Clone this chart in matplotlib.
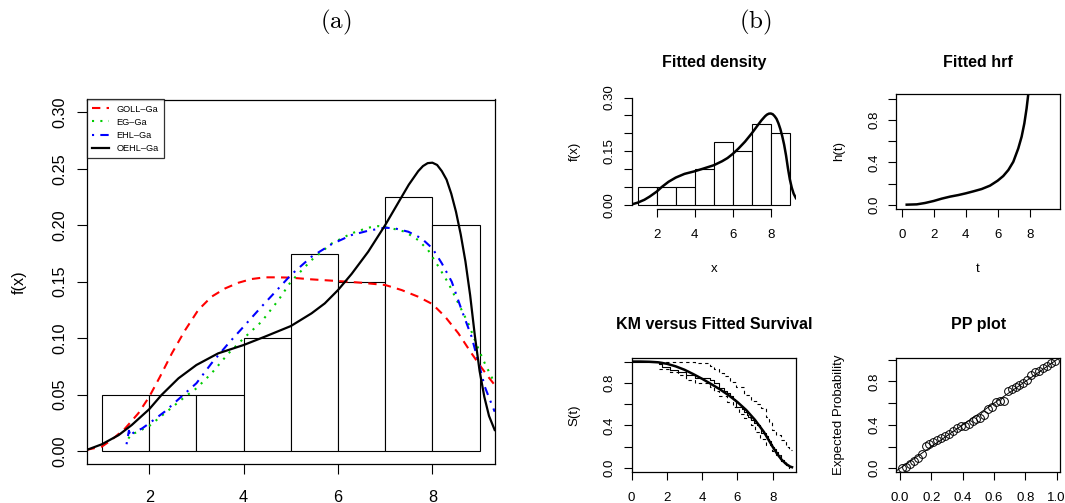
import matplotlib
matplotlib.use('Agg')
import matplotlib.pyplot as plt

plt.rcParams['font.family'] = ['Liberation Sans', 'DejaVu Sans']
plt.rcParams['mathtext.fontset'] = 'cm'

# histogram of the data (density scale)
bin_left = [1, 2, 3, 4, 5, 6, 7, 8]
hist_density = [0.05, 0.05, 0.05, 0.10, 0.175, 0.15, 0.225, 0.20]

# fitted densities, panel (a)
oehl_x = [0.675, 1.0, 1.35, 1.63, 2.0, 2.26, 2.62, 3.0, 3.46, 4.0, 4.45, 5.0, 5.44, 5.72,
          6.0, 6.29, 6.64, 7.0, 7.35, 7.5, 7.7, 7.8, 7.9, 8.0, 8.1, 8.2, 8.3, 8.4, 8.5,
          8.6, 8.7, 8.8, 8.9, 9.0, 9.1, 9.2, 9.32]
oehl_y = [0.0009, 0.006, 0.014, 0.023, 0.037, 0.0496, 0.0644, 0.0762, 0.0865, 0.0939,
          0.1013, 0.1107, 0.122, 0.1308, 0.1426, 0.157, 0.1766, 0.2002, 0.2253, 0.236,
          0.248, 0.2525, 0.2551, 0.2555, 0.2535, 0.248, 0.2405, 0.228, 0.212, 0.192, 0.168,
          0.138, 0.102, 0.071, 0.048, 0.031, 0.0186]

goll_x = [0.675, 1.0, 1.2, 1.49, 1.77, 2.0, 2.23, 2.48, 2.76, 3.04, 3.32, 3.61, 3.89, 4.17,
          4.45, 4.74, 5.0, 5.44, 6.0, 6.5, 7.0, 7.35, 7.7, 8.0, 8.27, 8.55, 8.83, 9.0,
          9.18, 9.32]
goll_y = [0.001, 0.004, 0.0097, 0.020, 0.0334, 0.048, 0.0659, 0.0865, 0.107, 0.125, 0.1367,
          0.1441, 0.1491, 0.1524, 0.1539, 0.1539, 0.1536, 0.1521, 0.1506, 0.1491, 0.1471,
          0.1426, 0.1367, 0.1302, 0.119, 0.1043, 0.0865, 0.0762, 0.0659, 0.0585]

eg_x = [1.56, 1.62, 1.70, 1.85, 2.0, 2.33, 2.76, 3.0, 3.32, 3.68, 4.0, 4.38, 4.74, 5.0,
        5.44, 5.87, 6.29, 6.64, 6.85, 7.14, 7.42, 7.7, 7.91, 8.13, 8.34, 8.55, 8.76, 8.9,
        9.0, 9.11, 9.32]
eg_y = [0.011, 0.015, 0.016, 0.019, 0.0221, 0.0334, 0.0481, 0.0555, 0.0688, 0.0865, 0.0998,
        0.1146, 0.1338, 0.15, 0.1692, 0.184, 0.1929, 0.1979, 0.1993, 0.1973, 0.1943, 0.1869,
        0.178, 0.1633, 0.1486, 0.1308, 0.1131, 0.0983, 0.088, 0.0777, 0.06]

ehl_x = [1.52, 1.57, 1.61, 1.66, 1.75, 1.85, 2.0, 2.33, 2.76, 3.0, 3.32, 3.68, 4.0, 4.38,
         4.74, 5.0, 5.44, 5.87, 6.29, 6.64, 7.0, 7.2, 7.49, 7.77, 8.0, 8.2, 8.41, 8.62,
         8.83, 9.0, 9.11, 9.22, 9.32]
ehl_y = [0.006, 0.018, 0.013, 0.016, 0.018, 0.020, 0.0245, 0.0349, 0.0511, 0.06, 0.0777,
         0.0954, 0.1102, 0.1279, 0.1441, 0.1559, 0.1722, 0.1834, 0.1914, 0.1952, 0.1979,
         0.1973, 0.1943, 0.1884, 0.1796, 0.1663, 0.15, 0.1249, 0.1013, 0.0747, 0.057,
         0.0452, 0.0348]

# fitted hazard
hrf_t = [0.31, 0.94, 1.46, 2.0, 2.5, 3.02, 3.54, 4.0, 4.48, 5.0, 5.52, 6.0, 6.35, 6.67,
         6.98, 7.29, 7.5, 7.67, 7.81, 7.92]
hrf_h = [0.0, 0.003, 0.016, 0.035, 0.057, 0.076, 0.091, 0.107, 0.126, 0.148, 0.18, 0.227,
         0.271, 0.328, 0.406, 0.532, 0.643, 0.769, 0.91, 1.05]

# Kaplan-Meier estimate (event times, survival after each event)
km_time = [0, 1.55, 1.75, 2.15, 2.65, 3.1, 3.6, 4.45, 4.7, 4.93, 4.98, 5.25, 5.4, 5.6, 5.75,
           5.85, 5.9, 5.95, 6.25, 6.4, 6.55, 6.6, 6.75, 6.95, 7.1, 7.3, 7.32, 7.33, 7.65,
           7.72, 7.8, 7.88, 7.95, 8.05, 8.2, 8.3, 8.38, 8.48, 8.62, 8.78, 8.95]
km_surv = [1.0, 0.975, 0.95, 0.925, 0.9, 0.875, 0.85, 0.825, 0.8, 0.775, 0.75, 0.725, 0.7,
           0.675, 0.65, 0.625, 0.6, 0.575, 0.55, 0.525, 0.5, 0.475, 0.45, 0.425, 0.4, 0.375,
           0.35, 0.325, 0.3, 0.275, 0.25, 0.225, 0.2, 0.175, 0.15, 0.125, 0.1, 0.075, 0.05,
           0.025, 0.0]
upper_t = [1.55, 2.65, 3.6, 4.45, 4.7, 4.98, 5.25, 5.6, 5.95, 6.4, 6.75, 7.1, 7.33, 7.65,
           7.8, 7.95, 8.2, 8.48, 8.78, 8.95, 9.1]
upper_s = [1.0, 0.995, 0.985, 0.96, 0.93, 0.895, 0.86, 0.81, 0.76, 0.69, 0.63, 0.6, 0.56,
           0.48, 0.43, 0.36, 0.31, 0.26, 0.2, 0.17, 0.17]
lower_t = [1.55, 2.15, 2.65, 3.1, 3.6, 4.45, 4.7, 4.98, 5.4, 5.75, 6.1, 6.4, 6.75, 7.0, 7.3,
           7.65, 7.95, 8.2, 8.48, 8.78, 8.95]
lower_s = [0.93, 0.90, 0.87, 0.83, 0.80, 0.76, 0.72, 0.68, 0.62, 0.57, 0.51, 0.47, 0.40, 0.34,
           0.27, 0.22, 0.16, 0.12, 0.07, 0.03, 0.0]

# fitted survival
surv_t = [0, 0.5, 1.0, 1.5, 2.0, 2.5, 3.0, 3.5, 4.0, 4.5, 5.0, 5.5, 6.0, 6.5, 7.0, 7.5, 8.0,
          8.25, 8.5, 8.75, 9.0, 9.1]
surv_s = [1.0, 1.0, 0.998, 0.993, 0.979, 0.955, 0.923, 0.882, 0.838, 0.79, 0.74, 0.684, 0.62,
          0.545, 0.452, 0.34, 0.2, 0.135, 0.08, 0.04, 0.013, 0.008]

# PP plot
pp_obs = [0.0125, 0.0375, 0.0625, 0.0875, 0.1125, 0.1375, 0.1625, 0.1875, 0.2125, 0.2375,
          0.2625, 0.2875, 0.3125, 0.3375, 0.3625, 0.3875, 0.4125, 0.4375, 0.4625, 0.4875,
          0.5125, 0.5375, 0.5625, 0.5875, 0.6125, 0.6375, 0.6625, 0.6875, 0.7125, 0.7375,
          0.7625, 0.7875, 0.8125, 0.8375, 0.8625, 0.8875, 0.9125, 0.9375, 0.9625, 0.9875]
pp_exp = [0.003, 0.012, 0.037, 0.065, 0.095, 0.135, 0.203, 0.225, 0.243, 0.262, 0.28, 0.298,
          0.32, 0.342, 0.372, 0.388, 0.391, 0.412, 0.434, 0.458, 0.465, 0.495, 0.545, 0.566,
          0.612, 0.618, 0.618, 0.711, 0.729, 0.748, 0.766, 0.782, 0.812, 0.858, 0.883, 0.898,
          0.92, 0.945, 0.966, 0.988]

W, H = 1065, 503
fig = plt.figure(figsize=(W / 100, H / 100), dpi=100)

# ---------------- panel (a)
ax = fig.add_axes([86.8 / W, 1 - 464.3 / H, 407.8 / W, 364.8 / H])
ax.bar(bin_left, hist_density, width=1, align='edge', color='white', edgecolor='black', lw=0.8)
ax.plot(goll_x, goll_y, color='red', lw=1.5, dashes=(4, 3), label='GOLL\u2013Ga')
ax.plot(eg_x, eg_y, color='#00cc00', lw=1.5, dashes=(1, 3), label='EG\u2013Ga')
ax.plot(ehl_x, ehl_y, color='blue', lw=1.5, dashes=(1, 3, 4, 3), label='EHL\u2013Ga')
ax.plot(oehl_x, oehl_y, color='black', lw=1.6, label='OEHL\u2013Ga')
ax.set_xlim(0.678, 9.318)
ax.set_ylim(-0.0118, 0.3115)
ax.set_xticks([2, 4, 6, 8])
ax.set_yticks([0, 0.05, 0.10, 0.15, 0.20, 0.25, 0.30])
ax.set_yticklabels(['0.00', '0.05', '0.10', '0.15', '0.20', '0.25', '0.30'],
                   rotation=90, va='center')
ax.tick_params(length=7.2, width=0.8, labelsize=11.7)
ax.tick_params(axis='x', pad=11)
ax.tick_params(axis='y', pad=6.5)
for s in ax.spines.values():
    s.set_linewidth(0.9)
ax.set_ylabel('f(x)', fontsize=11.7)
ax.yaxis.set_label_coords(-0.147, 0.5)
leg = ax.legend(loc='upper left', fontsize=6.6, frameon=True, fancybox=False,
                edgecolor='black', borderaxespad=0, handlelength=1.9,
                labelspacing=0.45, borderpad=0.55, handletextpad=0.8)
leg.get_frame().set_linewidth(0.9)

fig.text(336 / W, 1 - 22 / H, r'$\mathrm{(a)}$', fontsize=18, ha='center', va='center')
fig.text(755 / W, 1 - 22 / H, r'$\mathrm{(b)}$', fontsize=18, ha='center', va='center')

fs = 9.5
left_c, right_c = 631.6 / W, 896 / W
wid = 164.3 / W


def style(a):
    a.tick_params(length=6, width=0.8, labelsize=fs)
    a.tick_params(axis='x', pad=8.5)
    a.tick_params(axis='y', pad=5.5)
    for s in a.spines.values():
        s.set_linewidth(0.9)


# ---------------- Fitted density
ax1 = fig.add_axes([left_c, 1 - 209 / H, wid, 115.5 / H])
ax1.bar(bin_left, hist_density, width=1, align='edge', color='white', edgecolor='black', lw=0.8)
ax1.plot(oehl_x, oehl_y, color='black', lw=1.8)
ax1.set_xlim(0.678, 9.318)
ax1.set_ylim(-0.0118, 0.3115)
ax1.set_xticks([2, 4, 6, 8])
ax1.set_yticks([0, 0.05, 0.10, 0.15, 0.20, 0.25, 0.30])
ax1.set_yticklabels(['0.00', '', '', '0.15', '', '', '0.30'], rotation=90, va='center')
ax1.spines['top'].set_visible(False)
ax1.spines['right'].set_visible(False)
style(ax1)
ax1.spines['left'].set_bounds(0, 0.30)
ax1.spines['bottom'].set_bounds(2, 8)
ax1.set_title('Fitted density', fontsize=11.5, fontweight='bold', pad=19)
ax1.set_xlabel('x', fontsize=fs)
ax1.xaxis.set_label_coords(0.5, -0.47)
ax1.set_ylabel('f(x)', fontsize=fs)
ax1.yaxis.set_label_coords(-0.31, 0.5)

# ---------------- Fitted hrf
ax2 = fig.add_axes([right_c, 1 - 209 / H, wid, 115.5 / H])
ax2.plot(hrf_t, hrf_h, color='black', lw=1.8)
ax2.set_xlim(-0.36, 9.92)
ax2.set_ylim(-0.041, 1.052)
ax2.set_xticks([0, 2, 4, 6, 8])
ax2.set_yticks([0, 0.2, 0.4, 0.6, 0.8, 1.0])
ax2.set_yticklabels(['0.0', '', '0.4', '', '0.8', ''], rotation=90, va='center')
style(ax2)
ax2.set_title('Fitted hrf', fontsize=11.5, fontweight='bold', pad=19)
ax2.set_xlabel('t', fontsize=fs)
ax2.xaxis.set_label_coords(0.5, -0.47)
ax2.set_ylabel('h(t)', fontsize=fs)
ax2.yaxis.set_label_coords(-0.31, 0.5)

# ---------------- KM versus fitted survival
ax3 = fig.add_axes([left_c, 1 - 472.3 / H, wid, 114.8 / H])
ax3.plot(km_time, km_surv, color='black', lw=0.8, drawstyle='steps-post')
ax3.plot(upper_t, upper_s, color='black', lw=0.8, dashes=(3, 3), drawstyle='steps-post')
ax3.plot(lower_t, lower_s, color='black', lw=0.8, dashes=(3, 3), drawstyle='steps-post')
ax3.plot(surv_t, surv_s, color='black', lw=1.8)
ax3.set_xlim(0, 9.32)
ax3.set_ylim(-0.04, 1.038)
ax3.set_xticks([0, 2, 4, 6, 8])
ax3.set_yticks([0, 0.2, 0.4, 0.6, 0.8, 1.0])
ax3.set_yticklabels(['0.0', '', '0.4', '', '0.8', ''], rotation=90, va='center')
style(ax3)
ax3.set_title('KM versus Fitted Survival', fontsize=11.5, fontweight='bold', pad=20.5)
ax3.set_ylabel('S(t)', fontsize=fs)
ax3.yaxis.set_label_coords(-0.31, 0.5)

# ---------------- PP plot
ax4 = fig.add_axes([right_c, 1 - 472.3 / H, wid, 114.8 / H])
ax4.axline((0, 0), slope=1, color='black', lw=0.7)
ax4.plot(pp_obs, pp_exp, 'o', mfc='none', mec='black', ms=5.6, mew=0.7)
ax4.set_xlim(-0.026, 1.023)
ax4.set_ylim(-0.037, 1.021)
ax4.set_xticks([0, 0.2, 0.4, 0.6, 0.8, 1.0])
ax4.set_xticklabels(['0.0', '0.2', '0.4', '0.6', '0.8', '1.0'])
ax4.set_yticks([0, 0.2, 0.4, 0.6, 0.8, 1.0])
ax4.set_yticklabels(['0.0', '', '0.4', '', '0.8', ''], rotation=90, va='center')
style(ax4)
ax4.set_title('PP plot', fontsize=11.5, fontweight='bold', pad=20.5)
ax4.set_ylabel('Expected Probability', fontsize=fs)
ax4.yaxis.set_label_coords(-0.31, 0.5)

fig.savefig('out.png', dpi=100)
